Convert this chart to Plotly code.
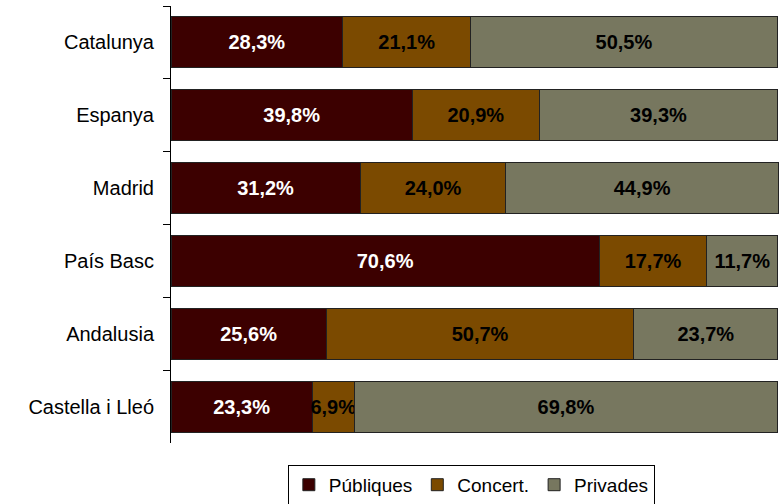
import plotly.graph_objects as go

categories = ["Catalunya", "Espanya", "Madrid", "País Basc", "Andalusia", "Castella i Lleó"]
publiques = [28.3, 39.8, 31.2, 70.6, 25.6, 23.3]
concert = [21.1, 20.9, 24.0, 17.7, 50.7, 6.9]
privades = [50.5, 39.3, 44.9, 11.7, 23.7, 69.8]
series_names = ["Públiques", "Concert.", "Privades"]

colors = ["#3c0000", "#7b4a00", "#77775f"]
text_colors = ["white", "black", "black"]


def fmt(v):
    return f"{v:.1f}%".replace(".", ",")


fig = go.Figure()
for name, vals, col, tcol in zip(series_names, [publiques, concert, privades], colors, text_colors):
    fig.add_trace(go.Bar(
        y=categories, x=vals, name=name, orientation="h",
        marker=dict(color=col, line=dict(color="#222222", width=1)),
        text=[fmt(v) for v in vals], textposition="inside",
        insidetextanchor="middle", textangle=0, constraintext="none",
        textfont=dict(family="Liberation Sans, Arial, sans-serif", size=20, color=tcol, weight="bold"),
        hoverinfo="skip",
    ))

fig.update_layout(
    barmode="stack", bargap=0.30,
    width=781, height=504,
    margin=dict(l=171, r=2, t=6, b=61, autoexpand=False),
    paper_bgcolor="white", plot_bgcolor="white",
    uniformtext=dict(mode=False),
    font=dict(family="Liberation Sans, Arial, sans-serif", size=20, color="black"),
    xaxis=dict(range=[0, 100.2], visible=False, fixedrange=True, automargin=False),
    yaxis=dict(
        autorange="reversed", showline=True, linecolor="black", linewidth=1,
        ticks="outside", tickson="boundaries", ticklen=7, tickcolor="black",
        tickfont=dict(size=20), showgrid=False, zeroline=False, ticklabelstandoff=12,
        automargin=False, fixedrange=True,
    ),
    legend=dict(
        orientation="h", x=0.494, xanchor="center", y=-0.05, yanchor="top",
        bordercolor="black", borderwidth=1, font=dict(size=19),
        traceorder="normal", itemwidth=30,
    ),
    showlegend=True,
)

fig.write_html("out.html", config={"displayModeBar": False},
               post_script="document.body.style.margin='0';")
